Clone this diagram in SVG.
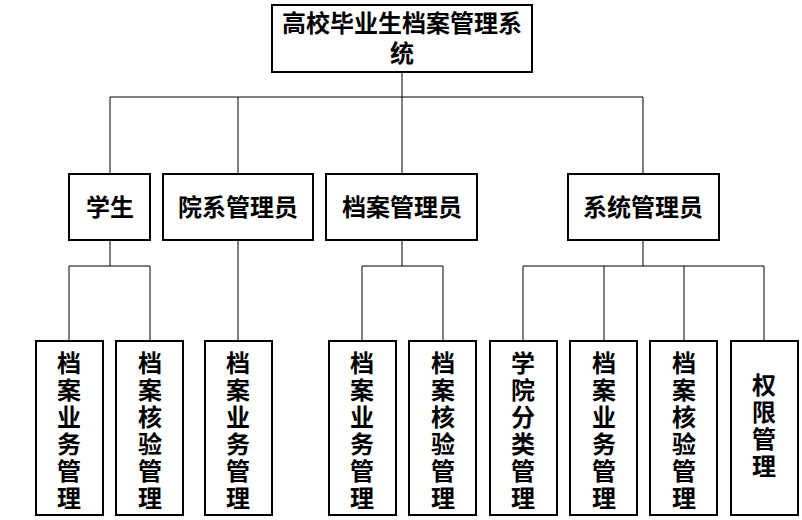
<svg xmlns="http://www.w3.org/2000/svg" width="802" height="520" viewBox="0 0 802 520">
<style>
rect{fill:#fff;stroke:#000;stroke-width:2}
.c line{stroke:#000;stroke-width:1}
text{font-family:"Noto Sans CJK SC","Noto Sans CJK JP",sans-serif;font-weight:bold;font-size:24px;text-anchor:middle;fill:#000}
</style>
<rect width="802" height="520" style="stroke:none"/>
<g class="c">
<line x1="402" y1="72" x2="402" y2="97"/>
<line x1="110" y1="97" x2="643" y2="97"/>
<line x1="110" y1="97" x2="110" y2="174"/>
<line x1="238" y1="97" x2="238" y2="174"/>
<line x1="402" y1="97" x2="402" y2="174"/>
<line x1="643" y1="97" x2="643" y2="174"/>
<line x1="110" y1="240" x2="110" y2="266"/>
<line x1="69" y1="266" x2="150" y2="266"/>
<line x1="69" y1="266" x2="69" y2="341"/>
<line x1="150" y1="266" x2="150" y2="341"/>
<line x1="238" y1="240" x2="238" y2="341"/>
<line x1="402" y1="240" x2="402" y2="266"/>
<line x1="362" y1="266" x2="443" y2="266"/>
<line x1="362" y1="266" x2="362" y2="341"/>
<line x1="443" y1="266" x2="443" y2="341"/>
<line x1="643" y1="240" x2="643" y2="266"/>
<line x1="523" y1="266" x2="764" y2="266"/>
<line x1="523" y1="266" x2="523" y2="341"/>
<line x1="604" y1="266" x2="604" y2="341"/>
<line x1="684" y1="266" x2="684" y2="341"/>
<line x1="764" y1="266" x2="764" y2="341"/>
</g>
<g id="root"><rect x="272" y="5" width="260" height="67"/><text x="402" y="32">高校毕业生档案管理系</text><text x="402" y="62">统</text></g>
<g id="n1"><rect x="69" y="174" width="81" height="66"/><text x="110" y="216">学生</text></g>
<g id="n2"><rect x="163" y="174" width="150" height="66"/><text x="238" y="216">院系管理员</text></g>
<g id="n3"><rect x="326" y="174" width="151" height="66"/><text x="402" y="216">档案管理员</text></g>
<g id="n4"><rect x="568" y="174" width="151" height="66"/><text x="643" y="216">系统管理员</text></g>
<g id="l1"><rect x="36" y="341" width="67" height="174"/><text x="69" y="372">档</text><text x="69" y="399">案</text><text x="69" y="426">业</text><text x="69" y="453">务</text><text x="69" y="480">管</text><text x="69" y="507">理</text></g>
<g id="l2"><rect x="116" y="341" width="67" height="174"/><text x="150" y="372">档</text><text x="150" y="399">案</text><text x="150" y="426">核</text><text x="150" y="453">验</text><text x="150" y="480">管</text><text x="150" y="507">理</text></g>
<g id="l3"><rect x="205" y="341" width="67" height="174"/><text x="238" y="372">档</text><text x="238" y="399">案</text><text x="238" y="426">业</text><text x="238" y="453">务</text><text x="238" y="480">管</text><text x="238" y="507">理</text></g>
<g id="l4"><rect x="329" y="341" width="67" height="174"/><text x="362" y="372">档</text><text x="362" y="399">案</text><text x="362" y="426">业</text><text x="362" y="453">务</text><text x="362" y="480">管</text><text x="362" y="507">理</text></g>
<g id="l5"><rect x="409" y="341" width="67" height="174"/><text x="443" y="372">档</text><text x="443" y="399">案</text><text x="443" y="426">核</text><text x="443" y="453">验</text><text x="443" y="480">管</text><text x="443" y="507">理</text></g>
<g id="l6"><rect x="490" y="341" width="67" height="174"/><text x="523" y="372">学</text><text x="523" y="399">院</text><text x="523" y="426">分</text><text x="523" y="453">类</text><text x="523" y="480">管</text><text x="523" y="507">理</text></g>
<g id="l7"><rect x="570" y="341" width="67" height="174"/><text x="604" y="372">档</text><text x="604" y="399">案</text><text x="604" y="426">业</text><text x="604" y="453">务</text><text x="604" y="480">管</text><text x="604" y="507">理</text></g>
<g id="l8"><rect x="650" y="341" width="67" height="174"/><text x="684" y="372">档</text><text x="684" y="399">案</text><text x="684" y="426">核</text><text x="684" y="453">验</text><text x="684" y="480">管</text><text x="684" y="507">理</text></g>
<g id="l9"><rect x="731" y="341" width="67" height="174"/><text x="764" y="394">权</text><text x="764" y="421">限</text><text x="764" y="448">管</text><text x="764" y="475">理</text></g>
</svg>
